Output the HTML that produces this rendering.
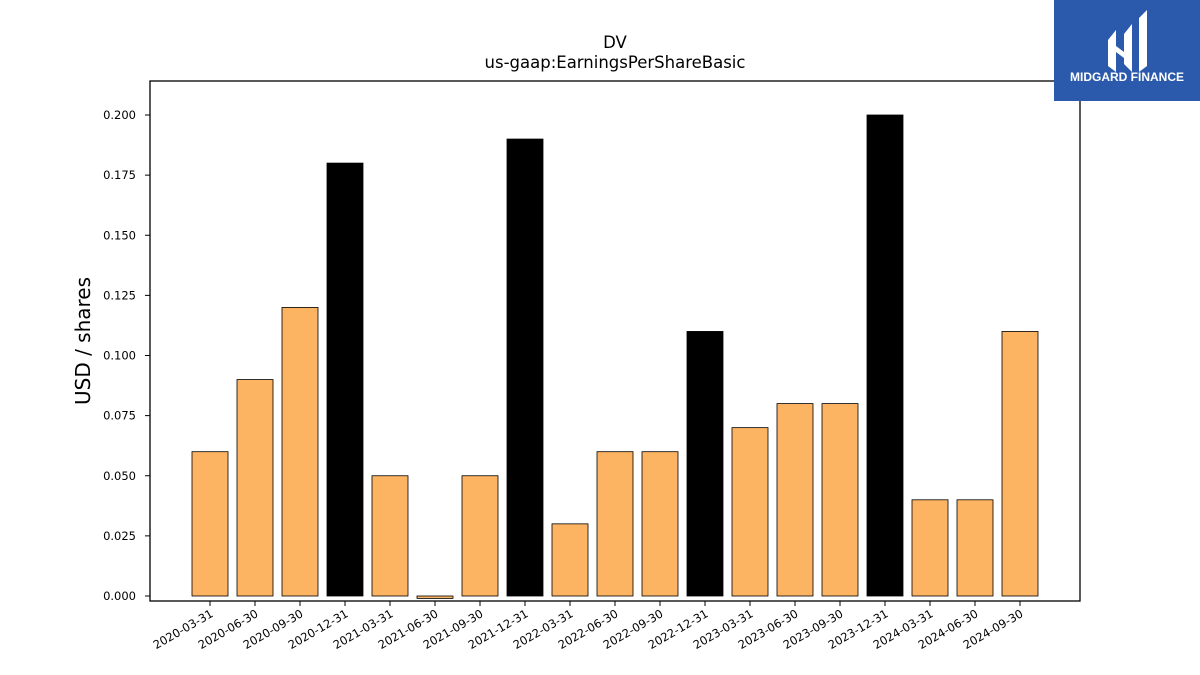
<!DOCTYPE html>
<html><head><meta charset="utf-8"><style>
body{margin:0;background:#fff;width:1200px;height:675px;overflow:hidden;font-family:"Liberation Sans","DejaVu Sans",sans-serif;}
</style></head><body>
<svg id="chart" width="1200" height="675" xmlns="http://www.w3.org/2000/svg" style="position:absolute;left:0;top:0">
<text x="615" y="48" text-anchor="middle" font-size="16.5" font-family="DejaVu Sans, sans-serif">DV</text>
<text x="615" y="68" text-anchor="middle" font-size="16.5" font-family="DejaVu Sans, sans-serif">us-gaap:EarningsPerShareBasic</text>
<text transform="translate(90,341) rotate(-90)" text-anchor="middle" font-size="20" font-family="DejaVu Sans, sans-serif">USD / shares</text>
<g id="bars"></g><g id="yticks"></g><g id="xticks"></g>
<rect x="150" y="81" width="930" height="520" fill="none" stroke="#000" stroke-width="1.3"/>
<g>
<rect x="1054" y="0" width="146" height="101" fill="#2b5aad"/>
<path d="M1108 40 L1116 30 L1116 72 L1108 66 Z M1124 34 L1132 24 L1132 72 L1124 64 Z M1139 18 L1147 10 L1147 66 L1139 72 Z M1116 46 L1124 52 L1132 46 L1132 52 L1124 58 L1116 52Z" fill="#fff"/>
<text x="1127" y="81" text-anchor="middle" font-size="12" font-weight="bold" fill="#fff" font-family="Liberation Sans, sans-serif">MIDGARD FINANCE</text>
</g>
</svg>
<script>
const categories=["2020-03-31","2020-06-30","2020-09-30","2020-12-31","2021-03-31","2021-06-30","2021-09-30","2021-12-31","2022-03-31","2022-06-30","2022-09-30","2022-12-31","2023-03-31","2023-06-30","2023-09-30","2023-12-31","2024-03-31","2024-06-30","2024-09-30"];
const values=[0.06,0.09,0.12,0.18,0.05,-0.001,0.05,0.19,0.03,0.06,0.06,0.11,0.07,0.08,0.08,0.20,0.04,0.04,0.11];
const yTicks=[0,0.025,0.05,0.075,0.1,0.125,0.15,0.175,0.2];
const NS="http://www.w3.org/2000/svg";
function y(v){return 596-v*2405;}
function x(i){return 210+i*45;}
function mk(t,a,p){const e=document.createElementNS(NS,t);for(const k in a)e.setAttribute(k,a[k]);p.appendChild(e);return e;}
const bars=document.getElementById('bars'),yt=document.getElementById('yticks'),xt=document.getElementById('xticks');
values.forEach((v,i)=>{
 const q4=categories[i].endsWith('12-31');
 const top=Math.min(y(v),y(0)),h=Math.abs(y(v)-y(0));
 const r=mk('rect',{x:x(i)-18,y:top,width:36,height:Math.max(h,0.5),fill:q4?'#000':'#fdb462',stroke:'#000','stroke-width':0.8},bars);
 
 
 const tl=mk('line',{x1:x(i),x2:x(i),y1:601,y2:606,stroke:'#000'},xt);
 
 
 const t=mk('text',{transform:`translate(${x(i)+4},${616}) rotate(-30)`,'text-anchor':'end','font-size':11.5,'font-family':'DejaVu Sans, sans-serif'},xt);
 t.textContent=categories[i];
 
 
});
yTicks.forEach(v=>{
 const l=mk('line',{x1:145,x2:150,y1:y(v),y2:y(v),stroke:'#000'},yt);
 
 
 const t=mk('text',{x:136,y:y(v)+4,'text-anchor':'end','font-size':11.5,'font-family':'DejaVu Sans, sans-serif'},yt);
 t.textContent=v.toFixed(3);
 
 
});
</script>
</body></html>
